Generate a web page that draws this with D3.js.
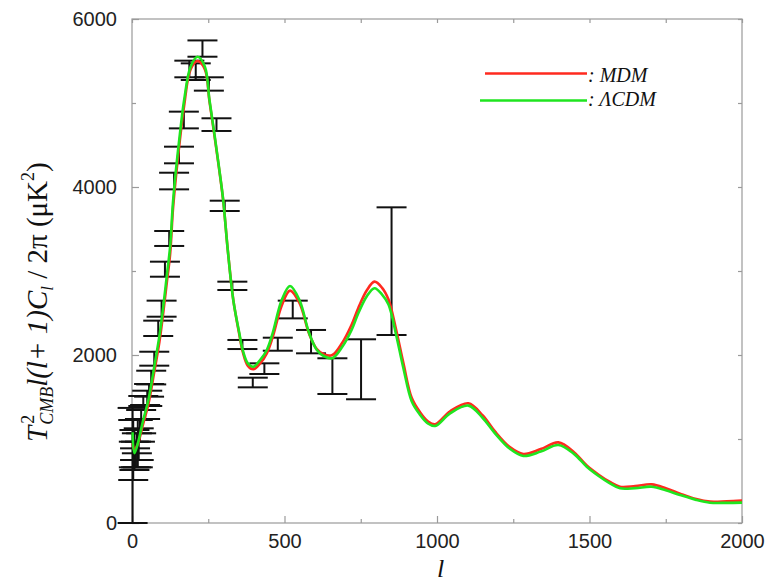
<!DOCTYPE html>
<html>
<head>
<meta charset="utf-8">
<script src="https://cdn.jsdelivr.net/npm/d3@7"></script>
<style>
  html, body { margin: 0; padding: 0; background: #fff; }
  svg { display: block; }
  .tick text { font-family: "Liberation Sans", Arial, sans-serif; font-size: 20px; fill: #222; }
  .serif { font-family: "Liberation Serif", "Times New Roman", serif; fill: #111; }
</style>
</head>
<body>
<svg id="chart" width="771" height="582"></svg>
<script>
// Multipole grid shared by both model spectra
const ell = [2, 8, 20, 35, 54, 73, 90, 103, 114, 125, 134, 144, 157, 171, 192, 215,
  239, 254, 270, 285, 299, 314, 332, 352, 363, 380, 398, 420, 442, 461, 491, 518,
  549, 581, 606, 630, 657, 690, 720, 742, 770, 795, 820, 841, 866, 890, 917, 944,
  970, 994, 1043, 1103, 1150, 1190, 1240, 1283, 1340, 1398, 1450, 1491, 1530, 1567,
  1600, 1650, 1704, 1750, 1797, 1850, 1895, 1950, 2000];

// MDM temperature power spectrum (μK²)
const mdm = [950, 870, 950, 1160, 1420, 1800, 2160, 2520, 2860, 3200, 3720, 4120, 4560, 4970, 5400, 5500,
  5400, 5020, 4620, 4230, 3840, 3250, 2660, 2240, 2040, 1870, 1830, 1900, 2020, 2210, 2590, 2766,
  2620, 2250, 2070, 2005, 2000, 2150, 2360, 2560, 2770, 2873, 2800, 2660, 2300, 1900, 1490, 1320,
  1210, 1175, 1330, 1425, 1280, 1090, 900, 821, 880, 960, 840, 685, 575, 488,
  432, 440, 460, 415, 350, 285, 254, 258, 266];

// ΛCDM temperature power spectrum (μK²)
const lcdm = [1080, 830, 960, 1200, 1470, 1860, 2230, 2590, 2940, 3290, 3800, 4200, 4630, 5036, 5432, 5551,
  5432, 5036, 4639, 4242, 3845, 3250, 2655, 2258, 2060, 1900, 1861, 1940, 2060, 2258, 2655, 2821,
  2655, 2258, 2060, 1985, 1962, 2100, 2298, 2496, 2700, 2794, 2720, 2600, 2240, 1840, 1450, 1290,
  1185, 1155, 1306, 1397, 1250, 1068, 880, 798, 850, 929, 820, 670, 560, 472,
  413, 415, 432, 390, 333, 275, 242, 240, 242];

// Measured band powers: multipole and error-bar bounds (μK²)
const obsL    = [2, 4, 6, 8, 10, 13, 16, 19, 22, 26, 30, 37, 43, 50, 56, 63, 73, 86, 97, 108, 122, 138,
  154, 170, 188, 209, 231, 252, 277, 304, 329, 362, 396, 434, 478, 527, 587, 657, 751, 851];
const obsLow  = [0, 512, 663, 631, 750, 663, 830, 663, 750, 968, 1068, 1393, 1238, 1393, 1504, 1650, 1873, 2226, 2456, 2932, 3298, 3972,
  4282, 4698, 5306, 5274, 5551, 5147, 4667, 3714, 2774, 2071, 1615, 1774, 2051, 2436, 2020, 1536, 1473, 2238];
const obsHigh = [1370, 1226, 968, 1107, 889, 968, 1068, 1226, 1127, 1238, 1345, 1512, 1405, 1575, 1655, 1813, 2039, 2409, 2647, 3111, 3476, 4170,
  4480, 4897, 5504, 5472, 5745, 5306, 4818, 3837, 2873, 2179, 1730, 1901, 2206, 2647, 2298, 1961, 2187, 3758];

const xTicks = [0, 500, 1000, 1500, 2000];
const yTicks = [0, 2000, 4000, 6000];
const xMinor = [250, 750, 1250, 1750];
const yMinor = [1000, 3000, 5000];

const legendNames = ["MDM", "ΛCDM"];
const colors = { mdm: "#ff2a1f", lcdm: "#1fe51f" };

const svg = d3.select("#chart");
const x = d3.scaleLinear().domain([0, 2000]).range([132, 742]);
const y = d3.scaleLinear().domain([0, 6000]).range([523, 19]);

// Frame
svg.append("rect")
  .attr("x", x(0)).attr("y", y(6000))
  .attr("width", x(2000) - x(0)).attr("height", y(0) - y(6000))
  .attr("fill", "none").attr("stroke", "#9a9a9a").attr("stroke-width", 1.2);

function styleAxis(g) {
  g.select(".domain").remove();
  g.selectAll(".tick line").attr("stroke", "#9a9a9a").attr("stroke-width", 1.2);
}

// Major ticks with labels
svg.append("g").attr("transform", `translate(0,${y(0)})`)
  .call(d3.axisBottom(x).tickValues(xTicks).tickFormat(d3.format("d")).tickSizeInner(-7).tickSizeOuter(0).tickPadding(11))
  .call(styleAxis);
svg.append("g").attr("transform", `translate(${x(0)},0)`)
  .call(d3.axisLeft(y).tickValues(yTicks).tickFormat(d3.format("d")).tickSizeInner(-7).tickSizeOuter(0).tickPadding(15))
  .call(styleAxis);
// Top/right ticks and minor ticks
svg.append("g").attr("transform", `translate(0,${y(6000)})`)
  .call(d3.axisTop(x).tickValues(xTicks.concat(xMinor)).tickFormat("").tickSizeInner(-4).tickSizeOuter(0))
  .call(styleAxis);
svg.append("g").attr("transform", `translate(${x(2000)},0)`)
  .call(d3.axisRight(y).tickValues(yTicks.concat(yMinor)).tickFormat("").tickSizeInner(-4).tickSizeOuter(0))
  .call(styleAxis);
svg.append("g").attr("transform", `translate(0,${y(0)})`)
  .call(d3.axisBottom(x).tickValues(xMinor).tickFormat("").tickSizeInner(-4).tickSizeOuter(0))
  .call(styleAxis);
svg.append("g").attr("transform", `translate(${x(0)},0)`)
  .call(d3.axisLeft(y).tickValues(yMinor).tickFormat("").tickSizeInner(-4).tickSizeOuter(0))
  .call(styleAxis);

// Error bars
const capHalf = 15;
const bars = svg.append("g").attr("stroke", "#111").attr("stroke-width", 2).attr("fill", "none");
obsL.forEach((l, i) => {
  const cx = x(l), y0 = y(obsLow[i]), y1 = y(obsHigh[i]);
  bars.append("line").attr("x1", cx).attr("x2", cx).attr("y1", y0).attr("y2", y1);
  bars.append("line").attr("x1", cx - capHalf).attr("x2", cx + capHalf).attr("y1", y0).attr("y2", y0);
  bars.append("line").attr("x1", cx - capHalf).attr("x2", cx + capHalf).attr("y1", y1).attr("y2", y1);
});

// Model curves
const line = d3.line().curve(d3.curveCatmullRom.alpha(0.5))
  .x(d => x(d[0])).y(d => y(d[1]));
svg.append("path").datum(ell.map((l, i) => [l, mdm[i]]))
  .attr("d", line).attr("fill", "none").attr("stroke", colors.mdm).attr("stroke-width", 2.6);
svg.append("path").datum(ell.map((l, i) => [l, lcdm[i]]))
  .attr("d", line).attr("fill", "none").attr("stroke", colors.lcdm).attr("stroke-width", 2.6);

// Legend
const legend = svg.append("g");
[[485, 73.5, colors.mdm, 82], [480, 100.5, colors.lcdm, 106]].forEach(([x0, ly, c, ty], i) => {
  legend.append("line").attr("x1", x0).attr("x2", 587).attr("y1", ly).attr("y2", ly)
    .attr("stroke", c).attr("stroke-width", 2.6);
  legend.append("text").attr("class", "serif").attr("x", 588).attr("y", ty)
    .attr("font-size", 20).attr("font-style", "italic")
    .text(": " + legendNames[i]);
});

// Axis titles
svg.append("text").attr("class", "serif")
  .attr("x", 437).attr("y", 576.5).attr("font-size", 26).attr("font-style", "italic")
  .text("l");

const yt = svg.append("text").attr("class", "serif")
  .attr("transform", "translate(47,442) rotate(-90)")
  .attr("font-size", 29);
yt.append("tspan").attr("font-style", "italic").text("T");
yt.append("tspan").attr("font-size", 18).attr("dx", 2).attr("dy", -13).text("2");
yt.append("tspan").attr("font-size", 18).attr("font-style", "italic").attr("dx", -10).attr("dy", 19).text("CMB");
yt.append("tspan").attr("font-style", "italic").attr("dy", -6).text("l(l+ 1)C");
yt.append("tspan").attr("font-size", 17).attr("font-style", "italic").attr("dy", 6).text("l");
yt.append("tspan").attr("dy", -6).text(" / 2π (μK");
yt.append("tspan").attr("font-size", 18).attr("dy", -13).text("2");
yt.append("tspan").attr("dy", 13).text(")");
</script>
</body>
</html>
